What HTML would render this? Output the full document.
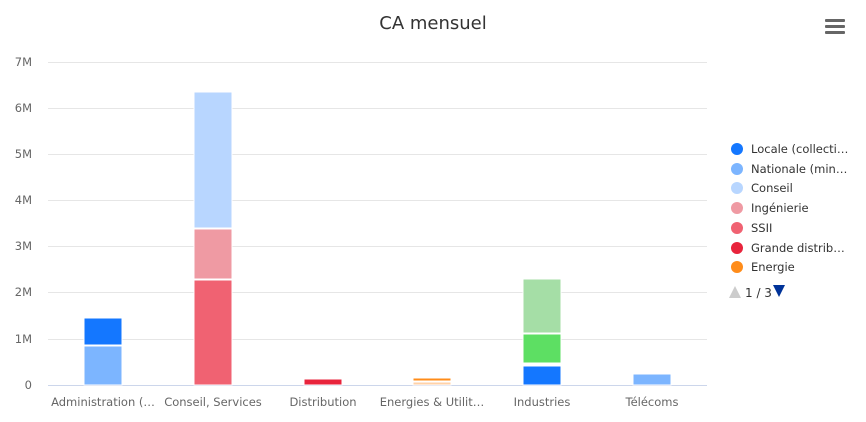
<!DOCTYPE html>
<html><head><meta charset="utf-8"><style>
html,body{margin:0;padding:0;background:#fff;}
svg{display:block;font-family:"DejaVu Sans","Liberation Sans",sans-serif;}
</style></head><body>
<svg width="866" height="422" viewBox="0 0 866 422" xmlns="http://www.w3.org/2000/svg">
<rect width="866" height="422" fill="#fff"/>
<text x="433" y="29" text-anchor="middle" font-size="18" fill="#333">CA mensuel</text>
<g fill="#666"><rect x="825" y="19" width="20" height="3" rx="1"/><rect x="825" y="25" width="20" height="3" rx="1"/><rect x="825" y="31" width="20" height="3" rx="1"/></g>
<g stroke="#e6e6e6" stroke-width="1">
<line x1="48" x2="707" y1="62.5" y2="62.5"/><line x1="48" x2="707" y1="108.5" y2="108.5"/>
<line x1="48" x2="707" y1="154.5" y2="154.5"/><line x1="48" x2="707" y1="200.5" y2="200.5"/>
<line x1="48" x2="707" y1="246.5" y2="246.5"/><line x1="48" x2="707" y1="292.5" y2="292.5"/>
<line x1="48" x2="707" y1="339.5" y2="339.5"/>
</g>
<line x1="48" x2="707" y1="385.5" y2="385.5" stroke="#ccd6eb"/>
<g font-size="11.5" fill="#666" text-anchor="end">
<text x="32" y="66">7M</text><text x="32" y="112">6M</text><text x="32" y="158">5M</text>
<text x="32" y="204">4M</text><text x="32" y="250">3M</text><text x="32" y="296">2M</text>
<text x="32" y="343">1M</text><text x="32" y="389">0</text>
</g>
<g stroke="#fff" stroke-width="1">
<rect x="84" y="346" width="38" height="39" fill="#7cb5ff"/>
<rect x="84" y="318" width="38" height="27" fill="#1477ff"/>
<rect x="194" y="280" width="38" height="105" fill="#f06272"/>
<rect x="194" y="229" width="38" height="50" fill="#ef9aa3"/>
<rect x="194" y="92" width="38" height="136" fill="#b8d6ff"/>
<rect x="304" y="379" width="38" height="6" fill="#e8243c"/>
<rect x="413" y="382" width="38" height="3" fill="#ffd2a8"/>
<rect x="413" y="378" width="38" height="3" fill="#ff8c1a"/>
<rect x="523" y="366" width="38" height="19" fill="#1477ff"/>
<rect x="523" y="334" width="38" height="29" fill="#5ddf63"/>
<rect x="523" y="279" width="38" height="54" fill="#a5dea6"/>
<rect x="633" y="374" width="38" height="11" fill="#7cb5ff"/>
</g>
<g font-size="11.5" fill="#666" text-anchor="middle">
<text x="103" y="406">Administration (…</text>
<text x="213" y="406">Conseil, Services</text>
<text x="323" y="406">Distribution</text>
<text x="432" y="406">Energies &amp; Utilit…</text>
<text x="542" y="406">Industries</text>
<text x="652" y="406">Télécoms</text>
</g>
<g font-size="11.5" fill="#333">
<circle cx="737" cy="149" r="6" fill="#1477ff"/><text x="751" y="153">Locale (collecti…</text>
<circle cx="737" cy="169" r="6" fill="#7cb5ff"/><text x="751" y="173">Nationale (min…</text>
<circle cx="737" cy="188" r="6" fill="#b8d6ff"/><text x="751" y="192">Conseil</text>
<circle cx="737" cy="208" r="6" fill="#ef9aa3"/><text x="751" y="212">Ingénierie</text>
<circle cx="737" cy="228" r="6" fill="#f06272"/><text x="751" y="232">SSII</text>
<circle cx="737" cy="248" r="6" fill="#e8243c"/><text x="751" y="252">Grande distrib…</text>
<circle cx="737" cy="267" r="6" fill="#ff8c1a"/><text x="751" y="271">Energie</text>
<polygon points="729,298 741,298 735,286" fill="#ccc"/>
<text x="745" y="297" font-size="12" fill="#333">1 / 3</text>
<polygon points="773,285 785,285 779,297" fill="#003399"/>
</g>
</svg>
</body></html>
